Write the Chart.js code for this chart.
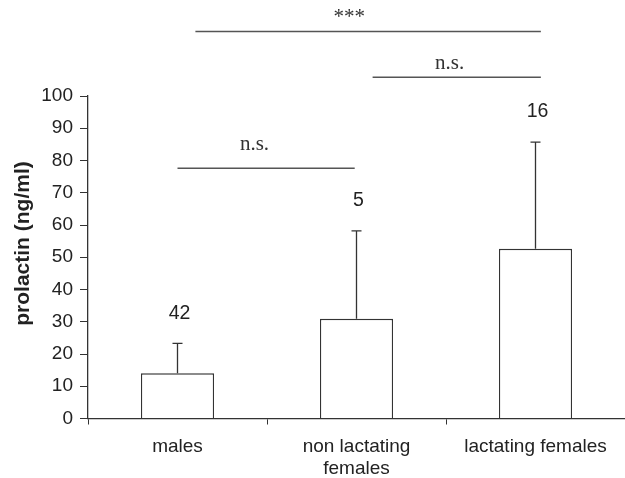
<!DOCTYPE html>
<html>
<head>
<meta charset="utf-8">
<script src="https://cdn.jsdelivr.net/npm/chart.js@4.4.1/dist/chart.umd.min.js"></script>
<style>
html,body{margin:0;padding:0;background:#fff;}
#wrap{width:625px;height:478px;position:relative;}
</style>
</head>
<body>
<div id="wrap"><canvas id="c" width="625" height="478"></canvas></div>
<script>
// ---- data ----
const categories = ['males', ['non lactating', 'females'], 'lactating females'];
const meanValues = [14.0, 30.9, 52.6];
const sdValues = [9.3, 27.3, 33.1];
const sampleSizes = ['42', '5', '16'];
const yTicks = [0, 10, 20, 30, 40, 50, 60, 70, 80, 90, 100];
// significance brackets (category index range, level in y units)
const sigLabels = ['***', 'n.s.', 'n.s.'];
const sigFrom = [0.10, 1.09, 0.00];
const sigTo = [2.03, 2.03, 0.99];
const sigLevel = [120, 105.8, 77.6];
const sigTextAt = [0.96, 1.52, 0.43];
const sigTextLevel = [124.3, 110.0, 84.9];

const SANS = '"Liberation Sans", Arial, sans-serif';
const SERIF = '"Liberation Serif", "Times New Roman", serif';

const extras = {
  id: 'extras',
  afterDatasetsDraw(chart) {
    const ctx = chart.ctx;
    const x = chart.scales.x, y = chart.scales.y;
    const meta = chart.getDatasetMeta(0);
    ctx.save();
    // error bars + n labels
    meta.data.forEach((bar, i) => {
      const cx = bar.x;
      const top = y.getPixelForValue(meanValues[i]);
      const et = y.getPixelForValue(meanValues[i] + sdValues[i]);
      ctx.strokeStyle = '#333';
      ctx.lineWidth = 1.3;
      ctx.beginPath();
      ctx.moveTo(cx, top);
      ctx.lineTo(cx, et);
      ctx.moveTo(cx - 5, et);
      ctx.lineTo(cx + 5, et);
      ctx.stroke();
      ctx.fillStyle = '#222';
      ctx.font = '19.5px ' + SANS;
      ctx.textAlign = 'center';
      ctx.textBaseline = 'middle';
      ctx.fillText(sampleSizes[i], cx + 2, et - 30);
    });
    // significance brackets
    sigLabels.forEach((lab, i) => {
      const x1 = x.getPixelForValue(sigFrom[i]);
      const x2 = x.getPixelForValue(sigTo[i]);
      const yy = y.getPixelForValue(sigLevel[i]);
      ctx.strokeStyle = '#555';
      ctx.lineWidth = 1.6;
      ctx.beginPath();
      ctx.moveTo(x1, yy);
      ctx.lineTo(x2, yy);
      ctx.stroke();
      ctx.fillStyle = '#333';
      ctx.font = '21px ' + SERIF;
      ctx.textAlign = 'center';
      ctx.textBaseline = 'middle';
      ctx.fillText(lab, x.getPixelForValue(sigTextAt[i]), y.getPixelForValue(sigTextLevel[i]));
    });
    // y axis title
    ctx.translate(23, 243.5);
    ctx.rotate(-Math.PI / 2);
    ctx.fillStyle = '#222';
    ctx.font = 'bold 21px ' + SANS;
    ctx.textAlign = 'center';
    ctx.textBaseline = 'middle';
    ctx.fillText('prolactin (ng/ml)', 0, 0);
    ctx.restore();
  }
};

new Chart(document.getElementById('c'), {
  type: 'bar',
  data: {
    labels: categories,
    datasets: [{
      data: meanValues,
      backgroundColor: '#fff',
      borderColor: '#333',
      borderWidth: 1.3,
      barPercentage: 0.408,
      categoryPercentage: 1
    }]
  },
  options: {
    responsive: false,
    animation: false,
    devicePixelRatio: 1,
    layout: { padding: { top: 96, left: 0, right: 0, bottom: 0 } },
    plugins: { legend: { display: false }, tooltip: { enabled: false } },
    scales: {
      x: {
        offset: true,
        afterFit(s) { s.height = 59.5; },
        grid: { display: true, drawOnChartArea: false, drawTicks: true, tickLength: 6, color: '#333', offset: true },
        border: { display: true, color: '#333', width: 1.3 },
        ticks: { color: '#222', font: { family: SANS, size: 19, lineHeight: 1.16 }, padding: 11, maxRotation: 0, autoSkip: false }
      },
      y: {
        min: 0, max: 100,
        afterFit(s) { s.width = 88; },
        afterBuildTicks(s) { s.ticks = yTicks.map(v => ({ value: v })); },
        grid: { display: true, drawOnChartArea: false, drawTicks: true, tickLength: 8, color: '#333' },
        border: { display: true, color: '#333', width: 1.3 },
        ticks: { color: '#222', font: { family: SANS, size: 19 }, padding: 7 }
      }
    }
  },
  plugins: [extras]
});
</script>
</body>
</html>
